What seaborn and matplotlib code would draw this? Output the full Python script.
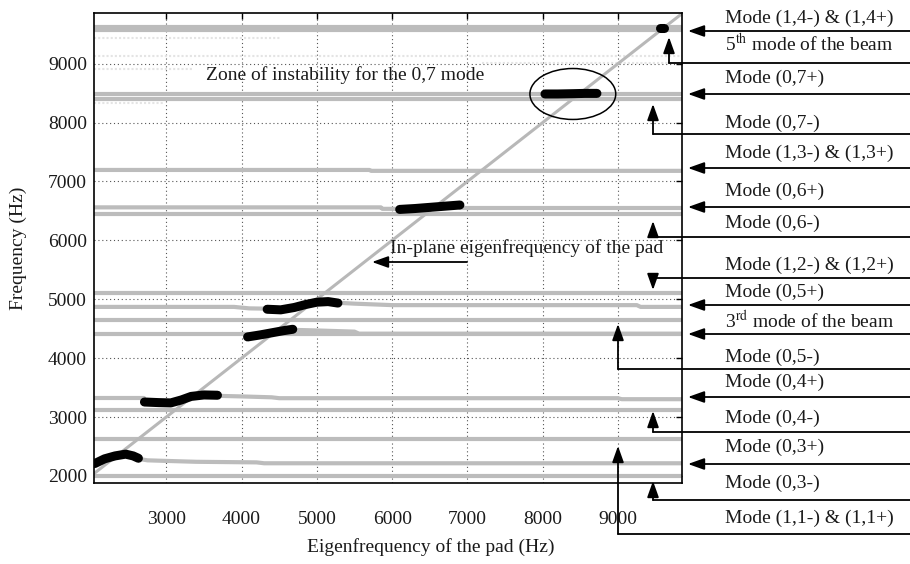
import pandas as pd
import seaborn as sns
import matplotlib.pyplot as plt
from matplotlib.lines import Line2D
from matplotlib.patches import Ellipse

sns.set_theme(style="white")
plt.rcParams["font.family"] = ["Liberation Serif", "DejaVu Serif"]
plt.rcParams["mathtext.fontset"] = "stix"

W, H = 910, 564
XLIM = (2040, 9850)
YLIM = (1880, 9860)

# system modes (gray branches), pad eigenfrequency -> frequency, Hz
m14a_x = [2040, 9850]
m14a_y = [9620, 9620]
m14b_x = [2040, 9850]
m14b_y = [9572, 9572]
m07p_x = [2040, 9850]
m07p_y = [8492, 8492]
m07m_x = [2040, 9850]
m07m_y = [8395, 8395]
m13_x = [2040, 5700, 5720, 9850]
m13_y = [7195, 7195, 7180, 7180]
m06p_left_x = [2040, 5850, 5870, 6100]
m06p_left_y = [6560, 6560, 6535, 6535]
m06p_right_x = [6900, 9850]
m06p_right_y = [6545, 6545]
m06m_x = [2040, 9850]
m06m_y = [6443, 6443]
m12_x = [2040, 9850]
m12_y = [5105, 5105]
m05p_left_x = [2040, 3900, 4100, 4340]
m05p_left_y = [4870, 4870, 4845, 4840]
m05p_right_x = [5280, 5500, 6000, 9250, 9300, 9850]
m05p_right_y = [4940, 4925, 4900, 4900, 4870, 4870]
beam3_x = [2040, 9850]
beam3_y = [4655, 4655]
m05m_x = [2040, 9850]
m05m_y = [4405, 4405]
m05m_branch_x = [4690, 5000, 5500, 5560, 9850]
m05m_branch_y = [4480, 4470, 4450, 4415, 4415]
m04p_left_x = [2040, 2700]
m04p_left_y = [3330, 3330]
m04p_right_x = [3680, 4000, 4400, 4500, 9000, 9050, 9850]
m04p_right_y = [3360, 3350, 3335, 3320, 3320, 3303, 3303]
m04m_x = [2040, 9850]
m04m_y = [3115, 3115]
m11_x = [2040, 9850]
m11_y = [2620, 2620]
m03p_x = [2630, 2750, 3000, 3400, 4200, 4300, 9850]
m03p_y = [2290, 2265, 2255, 2240, 2230, 2215, 2215]
m03m_x = [2040, 9850]
m03m_y = [1995, 1995]

# faint traces
faint1_x = [2040, 4520]
faint1_y = [9436, 9436]
faint2_x = [2040, 9850]
faint2_y = [9126, 9126]
faint3_x = [7190, 9850]
faint3_y = [9010, 9010]
faint4_x = [2040, 3370]
faint4_y = [8910, 8910]
faint5_x = [2040, 2970]
faint5_y = [8330, 8330]

# in-plane eigenfrequency of the pad
inplane_x = [2040, 9850]
inplane_y = [2040, 9850]

# unstable modes (black)
u1_x = [2050, 2180, 2320, 2460, 2560, 2630]
u1_y = [2210, 2290, 2340, 2370, 2340, 2300]
u2_x = [2710, 2900, 3060, 3200, 3330, 3500, 3680]
u2_y = [3255, 3245, 3240, 3290, 3350, 3375, 3370]
u3_x = [4080, 4250, 4400, 4550, 4680]
u3_y = [4360, 4395, 4430, 4465, 4490]
u4_x = [4340, 4520, 4700, 4850, 5000, 5150, 5280]
u4_y = [4830, 4820, 4860, 4910, 4950, 4960, 4935]
u5_x = [6100, 6300, 6500, 6700, 6900]
u5_y = [6525, 6540, 6560, 6580, 6600]
u6_x = [8030, 8200, 8400, 8560, 8720]
u6_y = [8485, 8485, 8490, 8495, 8495]
u7_x = [9555, 9615]
u7_y = [9610, 9610]

x_ticks = [3000, 4000, 5000, 6000, 7000, 8000, 9000]
y_ticks = [2000, 3000, 4000, 5000, 6000, 7000, 8000, 9000]

# right-hand labels: (text, y in px from top)
labels = [
    ("Mode (1,4-) & (1,4+)", 18),
    ("5$^{\\rm th}$ mode of the beam", 44),
    ("Mode (0,7+)", 78),
    ("Mode (0,7-)", 123),
    ("Mode (1,3-) & (1,3+)", 153),
    ("Mode (0,6+)", 191),
    ("Mode (0,6-)", 223),
    ("Mode (1,2-) & (1,2+)", 265),
    ("Mode (0,5+)", 292),
    ("3$^{\\rm rd}$ mode of the beam", 321),
    ("Mode (0,5-)", 357),
    ("Mode (0,4+)", 382),
    ("Mode (0,4-)", 418),
    ("Mode (0,3+)", 447),
    ("Mode (0,3-)", 483),
    ("Mode (1,1-) & (1,1+)", 518),
]
# straight arrows pointing left at the right edge (y px)
left_arrows = [31, 94, 168, 207, 305, 334, 397, 464]
# elbow arrows: (vertical x px, horizontal y px, tip y px)
elbow_arrows = [
    (669, 63, 37),
    (653, 134, 104),
    (653, 237, 221),
    (653, 278, 290),
    (618, 369, 324),
    (653, 432, 411),
    (653, 500, 481),
    (618, 534, 446),
]


def to_frame(pairs):
    parts = []
    for name, (xs, ys) in pairs.items():
        parts.append(pd.DataFrame({"pad": xs, "freq": ys, "branch": name}))
    return pd.concat(parts, ignore_index=True)


def fp(x, y):
    return x / W, 1 - y / H


gray_df = to_frame({
    "m14a": (m14a_x, m14a_y), "m14b": (m14b_x, m14b_y),
    "m07p": (m07p_x, m07p_y), "m07m": (m07m_x, m07m_y),
    "m13": (m13_x, m13_y),
    "m06pl": (m06p_left_x, m06p_left_y), "m06pr": (m06p_right_x, m06p_right_y),
    "m06m": (m06m_x, m06m_y), "m12": (m12_x, m12_y),
    "m05pl": (m05p_left_x, m05p_left_y), "m05pr": (m05p_right_x, m05p_right_y),
    "beam3": (beam3_x, beam3_y), "m05m": (m05m_x, m05m_y),
    "m05mb": (m05m_branch_x, m05m_branch_y),
    "m04pl": (m04p_left_x, m04p_left_y), "m04pr": (m04p_right_x, m04p_right_y),
    "m04m": (m04m_x, m04m_y), "m11": (m11_x, m11_y),
    "m03p": (m03p_x, m03p_y), "m03m": (m03m_x, m03m_y),
})
faint_df = to_frame({
    "f1": (faint1_x, faint1_y), "f2": (faint2_x, faint2_y),
    "f3": (faint3_x, faint3_y), "f4": (faint4_x, faint4_y),
    "f5": (faint5_x, faint5_y),
})
black_df = to_frame({
    "u1": (u1_x, u1_y), "u2": (u2_x, u2_y), "u3": (u3_x, u3_y),
    "u4": (u4_x, u4_y), "u5": (u5_x, u5_y), "u6": (u6_x, u6_y),
    "u7": (u7_x, u7_y),
})

fig = plt.figure(figsize=(W / 100, H / 100), dpi=100)
fig.patch.set_facecolor("white")
ax = fig.add_axes([94 / W, 1 - 483 / H, 588 / W, 470 / H])

sns.lineplot(data=faint_df, x="pad", y="freq", units="branch", estimator=None,
             sort=False, color="#e4e4e4", linewidth=1.5,
             linestyle=(0, (1, 1)), legend=False, ax=ax, zorder=2)
sns.lineplot(data=gray_df, x="pad", y="freq", units="branch", estimator=None,
             sort=False, color="#bcbcbc", linewidth=3.0,
             legend=False, ax=ax, zorder=2)
sns.lineplot(x=inplane_x, y=inplane_y, color="#b8b8b8", linewidth=2.2,
             ax=ax, zorder=2.5)
for name, grp in black_df.groupby("branch"):
    sns.lineplot(data=grp, x="pad", y="freq", sort=False, estimator=None,
                 color="black", linewidth=6.5, solid_capstyle="round",
                 ax=ax, zorder=3)

ax.add_patch(Ellipse((8400, 8485), 1140, 865, fill=False,
                     edgecolor="black", linewidth=1.1, zorder=4))

ax.set_xlim(*XLIM)
ax.set_ylim(*YLIM)
ax.set_xticks(x_ticks)
ax.set_yticks(y_ticks)
ax.grid(True, linestyle=(0, (1, 2.5)), color="#555555", linewidth=0.8)
ax.set_axisbelow(True)
ax.tick_params(direction="in", top=True, right=True, length=4, width=1,
               color="black", labelsize=14, labelcolor="#1a1a1a")
ax.tick_params(axis="x", pad=20)
ax.tick_params(axis="y", pad=5)
for spine in ax.spines.values():
    spine.set_color("black")
    spine.set_linewidth(1.2)

ax.set_xlabel("Eigenfrequency of the pad (Hz)", fontsize=14, color="#1a1a1a")
ax.set_ylabel("Frequency (Hz)", fontsize=14, color="#1a1a1a")
ax.xaxis.set_label_coords((431 - 94) / 588, (483 - 538) / 470)
ax.yaxis.set_label_coords((27 - 94) / 588, 0.5)

fig.text(*fp(345, 75), "Zone of instability for the 0,7 mode", ha="center",
         va="center", fontsize=14, color="#1a1a1a")
fig.text(*fp(527, 248), "In-plane eigenfrequency of the pad", ha="center",
         va="center", fontsize=14, color="#1a1a1a")
arrow_style = dict(arrowstyle="-|>,head_length=0.7,head_width=0.25",
                   color="black", lw=1.3, shrinkA=0, shrinkB=0,
                   mutation_scale=14)
ax.annotate("", xy=fp(372, 262), xytext=fp(467, 262),
            xycoords="figure fraction", arrowprops=arrow_style)

for text, y in labels:
    fig.text(*fp(725, y), text, ha="left", va="center", fontsize=14,
             color="#1a1a1a")

for y in left_arrows:
    ax.annotate("", xy=fp(688, y), xytext=fp(910, y),
                xycoords="figure fraction", arrowprops=arrow_style)

for xv, yl, ytip in elbow_arrows:
    (x0, y0), (x1, y1) = fp(910, yl), fp(xv, yl)
    fig.add_artist(Line2D([x0, x1], [y0, y1], transform=fig.transFigure,
                          color="black", linewidth=1.3))
    ax.annotate("", xy=fp(xv, ytip), xytext=fp(xv, yl),
                xycoords="figure fraction", arrowprops=arrow_style)

fig.savefig("out.png", dpi=100)
plt.close(fig)
